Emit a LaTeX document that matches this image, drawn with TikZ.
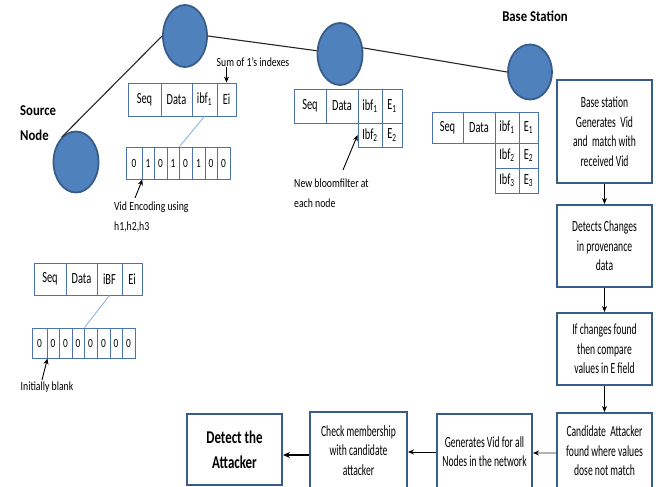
\documentclass[tikz,border=0pt]{standalone}
\usepackage{fontspec}
\setmainfont{Carlito}
\newfontfamily\flowf{Carlito}[FakeStretch=0.62]
\newfontfamily\cellf{Carlito}[FakeStretch=0.67]
\newfontfamily\labf{Carlito}[FakeStretch=0.78]
\newfontfamily\bitf{Carlito}[FakeStretch=0.75]
\newfontfamily\boldf{Carlito}[FakeStretch=0.85]
\newfontfamily\bigf{Carlito}[FakeStretch=0.72]
\usetikzlibrary{arrows.meta,shapes.geometric}
\definecolor{nodefill}{HTML}{4F81BD}
\definecolor{nodeedge}{HTML}{385D8A}
\definecolor{cellblue}{HTML}{4A72AC}
\definecolor{linkblue}{HTML}{8EB4E3}
\begin{document}
\begin{tikzpicture}[x=1pt,y=-1pt,
  sensor/.style={ellipse,draw=nodeedge,fill=nodefill,line width=1.8pt,inner sep=0pt},
  link/.style={draw=black!85,line width=1.1pt},
  cell/.style={draw=cellblue,line width=0.9pt,inner sep=0pt,font=\cellf\fontsize{15.5}{17}\selectfont},
  bit/.style={draw=cellblue,line width=0.9pt,inner sep=0pt,minimum height=#1,font=\bitf\fontsize{12.5}{14}\selectfont},
  bitlink/.style={draw=linkblue,line width=0.9pt},
  lab/.style={inner sep=0pt,font=\labf\fontsize{12.5}{20}\selectfont},
  boldlab/.style={inner sep=0pt,font=\boldf\bfseries\fontsize{15}{25}\selectfont},
  flowbox/.style={draw=nodeedge,line width=2pt,inner sep=0pt,minimum width=95pt,align=center,font=\flowf\fontsize{15.5}{19.5}\selectfont},
  arr/.style={-{Stealth[length=6pt,width=5pt]},line width=0.9pt},
]
\fill[white] (0,0) rectangle (656,487);
\useasboundingbox (0,0) rectangle (656,487);

% sensor nodes
\node[sensor,minimum width=45pt,minimum height=61pt] (c1) at (76,162) {};
\node[sensor,minimum width=44pt,minimum height=62pt] (c2) at (185,36) {};
\node[sensor,minimum width=45pt,minimum height=62pt] (c3) at (340,54) {};
\node[sensor,minimum width=44pt,minimum height=55pt] (c4) at (530,72) {};
\draw[link] (c1.120) -- (c2.west);
\draw[link] (c2.east) -- (c3.172);
\draw[link] (c3.15) -- (c4.west);

\node[boldlab,align=left,anchor=west] (srclbl) at (20,123.5) {Source\\Node};
\node[boldlab] (bslbl) at (535,16) {Base Station};

% packet at source (blank)
\node[cell,minimum width=32pt,minimum height=32pt] (p0seq) at (50,279) {Seq};
\node[cell,minimum width=31pt,minimum height=32pt] (p0data) at (81.5,279) {Data};
\node[cell,minimum width=25pt,minimum height=32pt] (p0ibf) at (109.5,279) {iBF};
\node[cell,minimum width=20pt,minimum height=32pt] (p0ei) at (132,279) {Ei};
\foreach \i/\a/\b/\v in {1/32/47/0,2/47/59/0,3/59/72/0,4/72/84/0,5/84/97/0,6/97/110/0,7/110/122/0,8/122/135/0}
  \node[bit=30pt,minimum width={(\b-\a)*1pt}] (b0c\i) at ({(\a+\b)/2},343) {\v};
\draw[bitlink] (p0ibf.south) -- (b0c4.north east);
\node[lab] (initlbl) at (47,387) {Initially blank};
\coordinate (inittail) at (42,380);
\draw[arr] (inittail) -- (b0c1.south east);

% packet at node 2
\node[cell,minimum width=33pt,minimum height=33pt] (p1seq) at (144.5,99.5) {Seq};
\node[cell,minimum width=31pt,minimum height=33pt] (p1data) at (176.5,99.5) {Data};
\node[cell,minimum width=25pt,minimum height=33pt] (p1ibf) at (204.5,99.5) {ibf\textsubscript{1}};
\node[cell,minimum width=19pt,minimum height=33pt] (p1ei) at (226.5,99.5) {Ei};
\foreach \i/\a/\b/\v in {1/126/142/0,2/142/154/1,3/154/167/0,4/167/179/1,5/179/192/0,6/192/205/1,7/205/217/0,8/217/230/0}
  \node[bit=32pt,minimum width={(\b-\a)*1pt}] (b1c\i) at ({(\a+\b)/2},163) {\v};
\draw[bitlink] (p1ibf.south) -- (b1c4.north east);
\node[lab] (sumlbl) at (253,62) {Sum of 1’s indexes};
\draw[arr] (p1ei.north |- sumlbl.south) -- (p1ei.north);
\node[lab,align=left,anchor=west] (vidlbl) at (114,217) {Vid Encoding using\\h1,h2,h3};
\coordinate (vidtail) at (135,198);
\draw[arr] (vidtail) -- (b1c1.south east);

% packet at node 3
\node[cell,minimum width=32pt,minimum height=34pt] (p2seq) at (310,106) {Seq};
\node[cell,minimum width=32pt,minimum height=34pt] (p2data) at (342,106) {Data};
\node[cell,minimum width=24pt,minimum height=34pt] (p2ibf1) at (370,106) {ibf\textsubscript{1}};
\node[cell,minimum width=20pt,minimum height=34pt] (p2e1) at (392,106) {E\textsubscript{1}};
\node[cell,minimum width=24pt,minimum height=24pt] (p2ibf2) at (370,135) {Ibf\textsubscript{2}};
\node[cell,minimum width=20pt,minimum height=24pt] (p2e2) at (392,135) {E\textsubscript{2}};
\node[lab,align=left,anchor=west] (bloomlbl) at (294,193.5) {New bloomfilter at\\each node};
\coordinate (bloomtail) at (343,170);
\draw[arr] (bloomtail) -- (p2ibf2.west);

% packet at base station
\node[cell,minimum width=31pt,minimum height=31pt] (p3seq) at (447.5,127.5) {Seq};
\node[cell,minimum width=32pt,minimum height=31pt] (p3data) at (479,127.5) {Data};
\node[cell,minimum width=24pt,minimum height=31pt] (p3ibf1) at (507,127.5) {ibf\textsubscript{1}};
\node[cell,minimum width=19pt,minimum height=31pt] (p3e1) at (528.5,127.5) {E\textsubscript{1}};
\node[cell,minimum width=24pt,minimum height=25pt] (p3ibf2) at (507,155.5) {Ibf\textsubscript{2}};
\node[cell,minimum width=19pt,minimum height=25pt] (p3e2) at (528.5,155.5) {E\textsubscript{2}};
\node[cell,minimum width=24pt,minimum height=25pt] (p3ibf3) at (507,180.5) {Ibf\textsubscript{3}};
\node[cell,minimum width=19pt,minimum height=25pt] (p3e3) at (528.5,180.5) {E\textsubscript{3}};

% flowchart
\node[flowbox,minimum height=103pt] (fa) at (604.5,131.5) {Base station\\Generates~ Vid\\and~ match with\\received Vid};
\node[flowbox,minimum height=82pt] (fb) at (604.5,246) {Detects Changes\\in provenance\\data};
\node[flowbox,minimum height=72pt] (fc) at (604.5,349) {If changes found\\then compare\\values in E field};
\node[flowbox,minimum height=76pt] (fd) at (604.5,451) {Candidate~ Attacker\\found where values\\dose not match};
\node[flowbox,minimum height=75pt] (fe) at (484.5,451.5) {Generates Vid for all\\Nodes in the network};
\node[flowbox,minimum width=97pt,minimum height=77pt] (ff) at (358.5,450.5) {Check membership\\with candidate\\attacker};
\node[flowbox,minimum height=71pt,font=\bigf\bfseries\fontsize{18}{25}\selectfont] (fg) at (234.5,449.5) {Detect the\\Attacker};

\draw[arr] (fa) -- (fb);
\draw[arr] (fb) -- (fc);
\draw[arr] (fc) -- (fd);
\draw[-{Stealth[length=6pt,width=5pt,color=black]},line width=1.2pt,draw=gray!60] (fd.west |- 0,453) -- (fe.east |- 0,453);
\draw[arr] (fe.west |- 0,452) -- (ff.east |- 0,452);
\draw[-{Stealth[length=7pt,width=6pt]},line width=2.4pt] (ff.west |- 0,455) -- (fg.east |- 0,455);
\end{tikzpicture}
\end{document}
